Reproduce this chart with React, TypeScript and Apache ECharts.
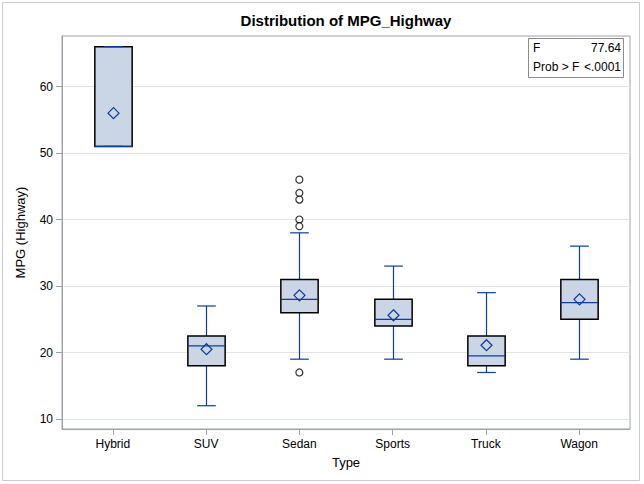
import React, { useEffect, useRef } from "react";
import * as echarts from "echarts";

const categories = ["Hybrid", "SUV", "Sedan", "Sports", "Truck", "Wagon"];
const whiskerLow = [51, 12, 19, 19, 17, 19];
const q1 = [51, 18, 26, 24, 18, 25];
const median = [51, 21, 28, 25, 19.5, 27.5];
const q3 = [66, 22.5, 31, 28, 22.5, 31];
const whiskerHigh = [66, 27, 38, 33, 29, 36];
const means = [56, 20.5, 28.6, 25.6, 21.1, 28];
const outlierCategory = ["Sedan", "Sedan", "Sedan", "Sedan", "Sedan", "Sedan"];
const outlierValue = [46, 44, 43, 40, 39, 17];
const yTicks = [10, 20, 30, 40, 50, 60];
const statLabels = ["F", "Prob > F"];
const statValues = ["77.64", "<.0001"];

const FONT = "'Liberation Sans', Arial, sans-serif";
const BLUE = "#0a3d9e";
const FILL = "#cad5e5";
const FRAME = "#9ea3a9";

export default function App() {
  const ref = useRef<HTMLDivElement>(null);
  useEffect(() => {
    if (!ref.current) return;
    const chart = echarts.init(ref.current, undefined, { renderer: "svg" });
    const xIdx = categories.map((_, i) => i);
    const boxData = categories.map((_, i) => [
      i,
      whiskerLow[i],
      q1[i],
      median[i],
      q3[i],
      whiskerHigh[i],
      means[i],
    ]);
    const outlierData = outlierValue.map((v, i) => [
      categories.indexOf(outlierCategory[i]),
      v,
    ]);
    const option: any = {
      animation: false,
      grid: {
        left: 62,
        right: 14,
        top: 36,
        bottom: 55,
        show: true,
        borderColor: FRAME,
        borderWidth: 1,
        outerBoundsMode: "none",
      },
      xAxis: {
        type: "value",
        min: -0.545,
        max: 5.545,
        name: "Type",
        nameLocation: "middle",
        nameGap: 27,
        nameTextStyle: { fontSize: 13, color: "#000", fontFamily: FONT },
        axisLine: { show: true, onZero: false, lineStyle: { color: FRAME } },
        axisTick: { show: true, customValues: xIdx, length: 6, lineStyle: { color: FRAME } },
        axisLabel: {
          customValues: xIdx,
          formatter: (v: number) => categories[Math.round(v)] ?? "",
          margin: 9,
          fontSize: 12,
          color: "#000",
          fontFamily: FONT,
        },
        splitLine: { show: false },
      },
      yAxis: {
        type: "value",
        min: 8.5,
        max: 67.6,
        name: "MPG (Highway)",
        nameLocation: "middle",
        nameGap: 35,
        nameRotate: 90,
        nameTextStyle: { fontSize: 13, color: "#000", fontFamily: FONT },
        axisLine: { show: true, onZero: false, lineStyle: { color: FRAME } },
        axisTick: { show: true, customValues: yTicks, length: 6, lineStyle: { color: FRAME } },
        axisLabel: {
          customValues: yTicks,
          margin: 9,
          fontSize: 12,
          color: "#000",
          fontFamily: FONT,
        },
        splitLine: { show: true, lineStyle: { color: "#e4e4e4" } },
      },
      series: [
        {
          type: "custom",
          clip: false,
          dimensions: ["x", "lo", "q1", "med", "q3", "hi", "mean"],
          encode: { x: 0, y: [1, 2, 3, 4, 5, 6] },
          data: boxData,
          renderItem: (params: any, api: any) => {
            const x = api.value(0);
            const lo = api.value(1);
            const a = api.value(2);
            const m = api.value(3);
            const b = api.value(4);
            const hi = api.value(5);
            const mean = api.value(6);
            const band = api.size([1, 0])[0];
            const hw = band * 0.2;
            const cw = band * 0.1;
            const pLo = api.coord([x, lo]);
            const pA = api.coord([x, a]);
            const pM = api.coord([x, m]);
            const pB = api.coord([x, b]);
            const pHi = api.coord([x, hi]);
            const pMean = api.coord([x, mean]);
            const cx = Math.round(pLo[0]) + 0.5;
            const ls = { stroke: BLUE, lineWidth: 1.2 };
            const d = 5.5;
            return {
              type: "group",
              children: [
                { type: "line", shape: { x1: cx, y1: pLo[1], x2: cx, y2: pA[1] }, style: ls },
                { type: "line", shape: { x1: cx, y1: pB[1], x2: cx, y2: pHi[1] }, style: ls },
                {
                  type: "rect",
                  shape: { x: cx - hw, y: pB[1], width: 2 * hw, height: pA[1] - pB[1] },
                  style: { fill: FILL, stroke: "#000", lineWidth: 1.5 },
                },
                { type: "line", shape: { x1: cx - cw, y1: pLo[1], x2: cx + cw, y2: pLo[1] }, style: ls },
                { type: "line", shape: { x1: cx - cw, y1: pHi[1], x2: cx + cw, y2: pHi[1] }, style: ls },
                { type: "line", shape: { x1: cx - hw, y1: pM[1], x2: cx + hw, y2: pM[1] }, style: ls },
                {
                  type: "polygon",
                  shape: {
                    points: [
                      [cx, pMean[1] - d],
                      [cx + d, pMean[1]],
                      [cx, pMean[1] + d],
                      [cx - d, pMean[1]],
                    ],
                  },
                  style: { fill: "none", stroke: BLUE, lineWidth: 1.2 },
                },
              ],
            };
          },
        },
        {
          type: "scatter",
          data: outlierData,
          symbol: "circle",
          symbolSize: 7,
          itemStyle: { color: "#fff", borderColor: "#000", borderWidth: 1.2 },
        },
      ],
      graphic: [
        {
          type: "rect",
          shape: { x: 2.5, y: 2.5, width: 637, height: 478 },
          style: { fill: "none", stroke: "#c9cdd3", lineWidth: 1 },
          silent: true,
        },
        {
          type: "text",
          x: 346,
          y: 20,
          style: {
            text: "Distribution of MPG_Highway",
            textAlign: "center",
            textVerticalAlign: "middle",
            font: `bold 15px ${FONT}`,
            fill: "#000",
          },
        },
        {
          type: "rect",
          shape: { x: 528.5, y: 38.5, width: 95, height: 39 },
          style: { fill: "#fff", stroke: "#8c8c8c", lineWidth: 1 },
        },
        ...statLabels.map((t, i) => ({
          type: "text",
          x: 533,
          y: 48 + i * 19,
          style: {
            text: t,
            textAlign: "left",
            textVerticalAlign: "middle",
            font: `12px ${FONT}`,
            fill: "#000",
          },
        })),
        ...statValues.map((t, i) => ({
          type: "text",
          x: 621,
          y: 48 + i * 19,
          style: {
            text: t,
            textAlign: "right",
            textVerticalAlign: "middle",
            font: `12px ${FONT}`,
            fill: "#000",
          },
        })),
      ],
    };
    chart.setOption(option);
    return () => chart.dispose();
  }, []);
  return (
    <div
      ref={ref}
      style={{ position: "fixed", left: 0, top: 0, width: 644, height: 484, background: "#fff" }}
    />
  );
}
